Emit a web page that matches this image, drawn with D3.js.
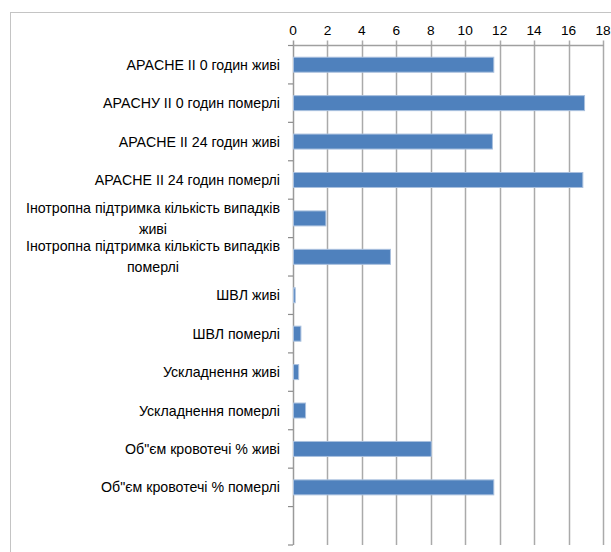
<!DOCTYPE html>
<html>
<head>
<meta charset="utf-8">
<script src="https://cdn.jsdelivr.net/npm/d3@7"></script>
<style>
  html, body { margin: 0; padding: 0; background: #fff; }
  svg { display: block; }
  text { font-family: "Liberation Sans", Arial, sans-serif; fill: #000; }
</style>
</head>
<body>
<svg id="chart" width="611" height="552"></svg>
<script>
// ---- data ----
const categories = [
  "APACHE II 0 годин живі",
  "APACHУ II 0 годин померлі",
  "APACHE II 24 годин живі",
  "APACHE II 24 годин померлі",
  "Інотропна підтримка кількість випадків|живі",
  "Інотропна підтримка кількість випадків|померлі",
  "ШВЛ живі",
  "ШВЛ померлі",
  "Ускладнення живі",
  "Ускладнення померлі",
  "Об\"єм кровотечі % живі",
  "Об\"єм кровотечі % померлі",
  ""
];
const values = [11.63, 16.9, 11.55, 16.8, 1.88, 5.63, 0.1, 0.43, 0.3, 0.7, 8.0, 11.63, null];
const xTicks = [0, 2, 4, 6, 8, 10, 12, 14, 16, 18];

// ---- layout ----
const svg = d3.select("#chart");
const plot = { left: 293, right: 603, top: 45.5, bottom: 545 };
const fontSize = 14.2;

svg.append("rect")
  .attr("x", 10.5).attr("y", 12.5)
  .attr("width", 640).attr("height", 600)
  .attr("fill", "#fff").attr("stroke", "#c4c4c4").attr("stroke-width", 1);

const x = d3.scaleLinear().domain([0, 18]).range([plot.left, plot.right]);
const y = d3.scaleBand().domain(d3.range(categories.length))
  .range([plot.top, plot.bottom]).paddingInner(0).paddingOuter(0);
const bw = y.bandwidth();
const barFrac = 0.39;

// gridlines (with outward ticks on top)
svg.append("g").selectAll("line").data(xTicks).join("line")
  .attr("x1", d => Math.round(x(d)) + 0.5).attr("x2", d => Math.round(x(d)) + 0.5)
  .attr("y1", plot.top - 5).attr("y2", plot.bottom)
  .attr("stroke", d => d === 0 ? "#9a9a9a" : "#aaaaaa").attr("stroke-width", 1.5);

// top axis line
svg.append("line")
  .attr("x1", plot.left).attr("x2", plot.right + 1)
  .attr("y1", plot.top).attr("y2", plot.top)
  .attr("stroke", "#a0a0a0").attr("stroke-width", 1.5);

// top tick labels
svg.append("g").selectAll("text").data(xTicks).join("text")
  .attr("x", d => x(d)).attr("y", 30)
  .attr("text-anchor", "middle").attr("dominant-baseline", "central")
  .attr("font-size", fontSize - 0.5).text(d => d);

// left axis ticks at band boundaries
const bounds = d3.range(categories.length + 1);
svg.append("g").selectAll("line").data(bounds).join("line")
  .attr("x1", plot.left - 5).attr("x2", plot.left)
  .attr("y1", d => plot.top + d * bw).attr("y2", d => plot.top + d * bw)
  .attr("stroke", "#8c8c8c").attr("stroke-width", 1.2);

// bars
svg.append("g").selectAll("rect")
  .data(values.map((v, i) => ({ v, i })).filter(d => d.v != null))
  .join("rect")
  .attr("x", x(0) + 0.5)
  .attr("y", d => y(d.i) + bw * (1 - barFrac) / 2)
  .attr("width", d => x(d.v) - x(0))
  .attr("height", bw * barFrac)
  .attr("fill", "#4F81BD")
  .attr("stroke", "#a9c0de").attr("stroke-width", 1);

// category labels
const labelRight = 280;
const lineGap = 21;
const lg = svg.append("g");
categories.forEach((c, i) => {
  if (!c) return;
  const lines = c.split("|");
  const cy = y(i) + bw / 2;
  if (lines.length === 1) {
    lg.append("text")
      .attr("x", labelRight).attr("y", cy)
      .attr("text-anchor", "end").attr("dominant-baseline", "central")
      .attr("font-size", fontSize).text(lines[0]);
  } else {
    const ts = lines.map((l, k) => lg.append("text")
      .attr("y", cy + (k - (lines.length - 1) / 2) * lineGap)
      .attr("text-anchor", "middle").attr("dominant-baseline", "central")
      .attr("font-size", fontSize).text(l));
    const maxW = d3.max(ts, t => t.node().getComputedTextLength());
    ts.forEach(t => t.attr("x", labelRight - maxW / 2));
  }
});
</script>
</body>
</html>
